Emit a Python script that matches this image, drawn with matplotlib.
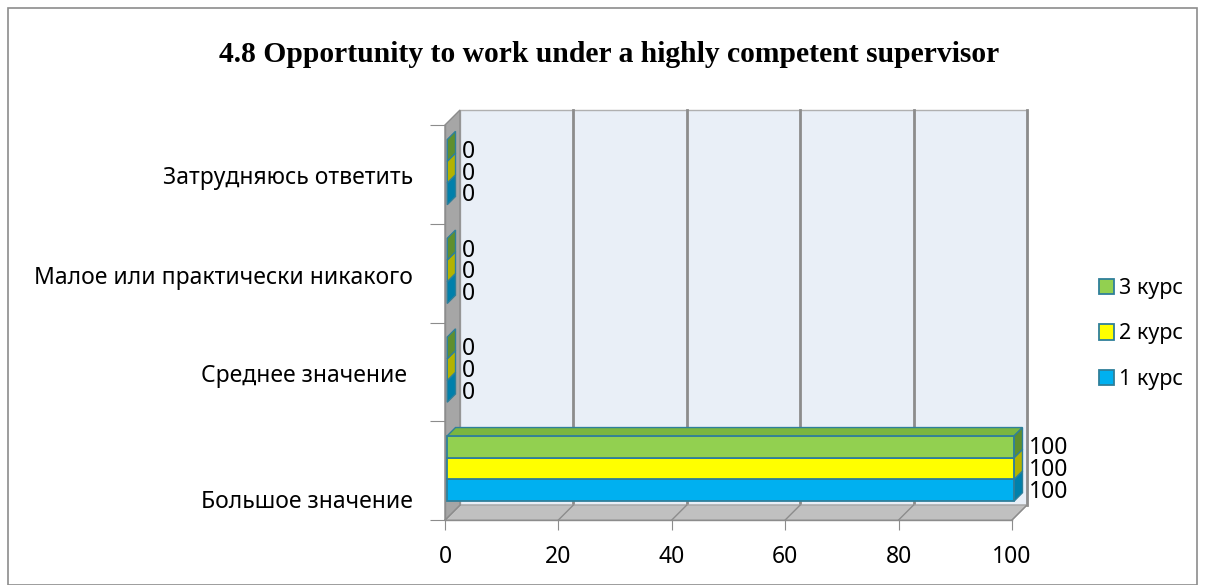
import matplotlib
matplotlib.use("Agg")
import matplotlib.pyplot as plt
from matplotlib.patches import Polygon, Rectangle, Patch
from matplotlib.transforms import offset_copy

# данные
categories = ["Большое значение", "Среднее значение ", "Малое или практически никакого", "Затрудняюсь ответить"]
series = ["1 курс", "2 курс", "3 курс"]
kurs1 = [100, 0, 0, 0]
kurs2 = [100, 0, 0, 0]
kurs3 = [100, 0, 0, 0]
xticks = [0, 20, 40, 60, 80, 100]

front_colors = ["#00b0f0", "#ffff00", "#92d050"]
top_colors = ["#0095cc", "#d9d900", "#7ab640"]
side_colors = ["#0080ab", "#b3b300", "#5f8f2e"]
edge = "#2f7f9a"
FONT = "Noto Sans"
FS = 16.5

W, H = 1205, 585
fig = plt.figure(figsize=(W / 100, H / 100), dpi=100)
fig.patches.append(Rectangle((8 / W, 0), 1189 / W, 1 - 8 / H, transform=fig.transFigure,
                             fill=False, edgecolor="#8c8c8c", linewidth=1.2))

ax = fig.add_axes([445 / W, 1 - 520 / H, 567 / W, 395 / H])
ax.set_xlim(0, 100)
ax.set_ylim(-0.5, 3.5)
for s in ax.spines.values():
    s.set_visible(False)
ax.patch.set_visible(False)

# смещение глубины (3D)
dx = 15 * 100 / 567
dy = 15 * 4 / 395
y0, y1 = -0.5, 3.5

def poly(pts, fc, ec="none", lw=0, z=1):
    ax.add_patch(Polygon(pts, closed=True, facecolor=fc, edgecolor=ec, linewidth=lw,
                         zorder=z, clip_on=False))

# задняя стенка
poly([(dx, y0 + dy), (100 + dx, y0 + dy), (100 + dx, y1 + dy), (dx, y1 + dy)], "#e9eff7", "#b0b0b0", 1, 0.5)
for t in xticks[1:]:
    ax.plot([t + dx, t + dx], [y0 + dy, y1 + dy], color="#8c8c8c", lw=2, zorder=0.6, clip_on=False)
# пол
poly([(0, y0), (100, y0), (100 + dx, y0 + dy), (0 + dx, y0 + dy)], "#c0c0c0", "#a6a6a6", 1, 0.7)
for t in xticks:
    ax.plot([t, t + dx], [y0, y0 + dy], color="#8c8c8c", lw=1, zorder=0.8, clip_on=False)
# левая стенка
poly([(0, y0), (dx, y0 + dy), (dx, y1 + dy), (0, y1)], "#a6a6a6", "#8c8c8c", 1, 0.9)

# столбцы
f0, f1 = 0.15, 0.7
bh = 0.22
values = [kurs1, kurs2, kurs3]
for i, cat in enumerate(categories):
    for j, vals in enumerate(values):
        v = vals[i]
        b = i - 1.5 * bh + j * bh
        t = b + bh
        ox, oy = f0 * dx, f0 * dy
        px, py = f1 * dx, f1 * dy
        z = 2 + j
        if v > 0:
            poly([(ox, b + oy), (v + ox, b + oy), (v + ox, t + oy), (ox, t + oy)],
                 front_colors[j], edge, 1.3, z)
            poly([(ox, t + oy), (v + ox, t + oy), (v + px, t + py), (px, t + py)],
                 top_colors[j], edge, 1.0, z)
        poly([(v + ox, b + oy), (v + px, b + py), (v + px, t + py), (v + ox, t + oy)],
             side_colors[j], edge, 1.0, z)
        ax.text(v + 2.9, (b + t) / 2 + oy * 0.3, str(v), fontsize=FS, va="center", ha="left",
                family=FONT, zorder=10)

# оси
ax.set_xticks(xticks)
ax.set_xticklabels([str(t) for t in xticks], fontsize=FS, family=FONT)
ax.tick_params(axis="x", length=7, color="#8c8c8c", pad=11)
ax.set_yticks([-0.5, 0.5, 1.5, 2.5, 3.5])
ax.set_yticklabels([])
ax.tick_params(axis="y", length=11, color="#8c8c8c")
ax.plot([0, 100], [y0, y0], color="#8c8c8c", lw=1, zorder=1, clip_on=False)
ax.plot([0, 0], [y0, y1], color="#8c8c8c", lw=1, zorder=1, clip_on=False)

label_shift = [-31, -4, -5, -4]
for i, cat in enumerate(categories):
    tr = offset_copy(ax.get_yaxis_transform(), fig=fig, x=-32, y=label_shift[i], units="dots")
    ax.text(0, i, cat, transform=tr, ha="right", va="center", fontsize=FS, family=FONT)

fig.text(609 / W, 1 - 54 / H, "4.8 Opportunity to work under a highly competent supervisor",
         ha="center", va="center", fontsize=21.3, fontweight="bold", family="Liberation Serif")

handles = [Patch(facecolor=front_colors[j], edgecolor=edge, linewidth=1.3) for j in range(3)][::-1]
fig.legend(handles, series[::-1], loc="center left", bbox_to_anchor=(1099 / W, 1 - 334 / H),
           frameon=False, prop={"family": FONT, "size": 15.5}, borderpad=0, borderaxespad=0,
           handlelength=0.7, handleheight=0.7, handletextpad=0.25, labelspacing=1.15)

fig.savefig("out.png", dpi=100)
